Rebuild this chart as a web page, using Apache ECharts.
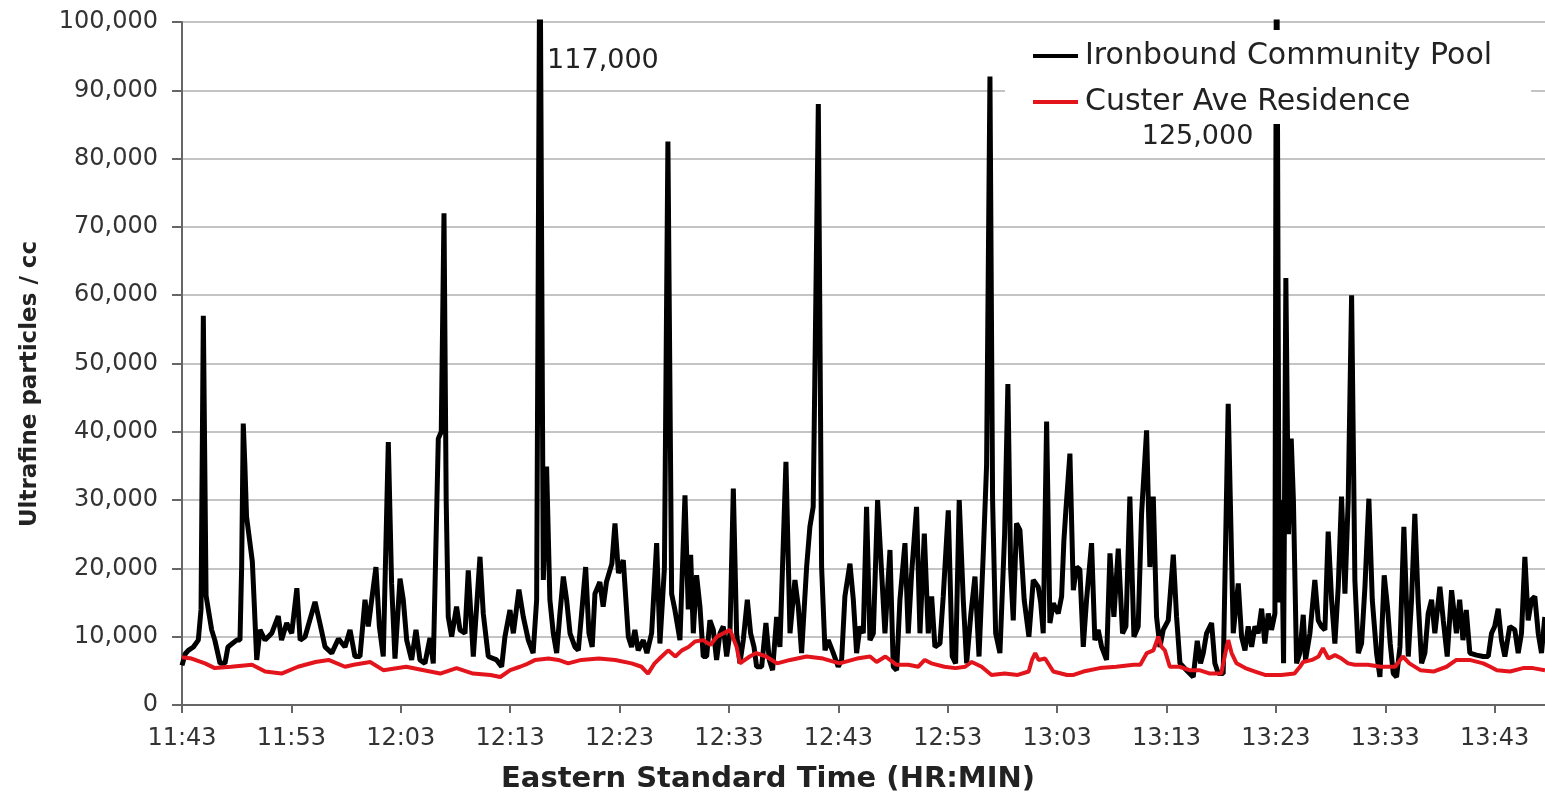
<!DOCTYPE html>
<html>
<head>
<meta charset="utf-8">
<script src="https://cdn.jsdelivr.net/npm/echarts@6/dist/echarts.min.js"></script>
<style>
html,body{margin:0;padding:0;background:#fff;}
#chart{width:1545px;height:793px;}
</style>
</head>
<body>
<div id="chart"></div>
<script>
// ---- data (minutes after 11:43, particles / cc) ----
const xTickLabels = ['11:43','11:53','12:03','12:13','12:23','12:33','12:43','12:53','13:03','13:13','13:23','13:33','13:43'];
const yTickValues = [0,10000,20000,30000,40000,50000,60000,70000,80000,90000,100000];
const seriesNames = ['Ironbound Community Pool', 'Custer Ave Residence'];
const peakLabels = ['117,000', '125,000'];

const poolMinutes = [0,0.3,0.58,1.04,1.49,1.74,1.95,2.2,2.71,3.0,3.48,3.93,4.2,4.6,5.0,5.3,5.45,5.6,5.75,5.9,6.43,6.6,6.83,7.13,7.59,8.2,8.8,9.1,9.57,10.03,10.5,10.8,11.25,12.16,12.6,13.08,13.69,14.3,
14.9,15.36,15.81,16.27,16.73,17.03,17.34,17.73,18.04,18.4,18.86,19.16,19.47,19.93,20.23,20.54,20.99,21.39,21.75,22.21,22.67,22.97,23.43,23.7,23.95,24.15,24.34,24.65,25.1,25.41,25.87,26.17,26.63,27.24,27.54,28.0,28.76,29.22,29.52,29.98,30.29,
30.8,31.2,31.66,32.1,32.42,32.72,33.03,33.33,33.63,33.94,34.25,34.55,34.86,35.16,35.47,35.92,36.23,36.53,36.9,37.2,37.5,37.75,38.2,38.5,38.8,39.3,39.58,39.9,40.34,40.8,41.1,41.4,41.7,42.17,42.5,42.93,43.39,43.69,44.1,44.42,44.76,45.06,45.52,45.98,46.28,
46.5,46.74,47.04,47.35,47.65,47.96,48.26,48.57,48.87,49.18,49.48,49.79,50.09,50.4,50.7,51.0,51.31,51.68,51.98,52.29,52.53,52.99,53.38,53.69,53.99,54.36,54.66,55.21,55.58,56.03,56.34,56.64,57.1,57.4,57.7,58.17,58.47,58.78,59.08,59.54,59.99,60.3,60.6,61.06,61.37,61.67,61.98,62.28,
62.58,62.89,63.2,63.59,63.96,64.26,64.72,65.02,65.33,65.63,66.09,66.39,66.7,67.15,67.46,67.86,68.22,68.53,68.83,69.29,69.59,70.05,70.41,70.72,71.05,71.42,71.73,72.12,72.49,72.86,73.25,73.55,73.86,74.1,74.38,74.77,75.2,75.5,75.75,75.99,76.29,76.6,76.99,77.42,77.82,78.27,78.5,78.73,
79.04,79.34,79.65,80.1,80.41,80.62,80.8,81.17,81.48,81.78,82.08,82.39,82.69,83.15,83.45,83.76,84.07,84.52,84.83,85.19,85.59,85.98,86.29,86.65,87.02,87.41,87.72,88.18,88.48,88.79,89.09,89.4,89.7,90.16,90.62,90.92,91.23,91.83,92.44,92.81,93.11,93.36,93.66,94.12,94.42,
94.73,95.18,95.64,96.1,96.56,96.86,97.17,97.47,97.78,98.08,98.38,98.69,98.99,99.3,99.6,99.91,100.06,100.3,100.5,100.7,100.91,101.15,101.4,101.6,101.89,102.19,102.5,102.71,103.11,103.56,103.87,104.17,104.48,104.78,105.09,105.39,105.7,106.0,106.31,106.61,106.92,107.22,107.53,107.83,108.14,108.5,108.81,109.2,109.51,109.9,110.2,
110.45,110.73,111.03,111.34,111.7,112.1,112.4,112.7,113.0,113.32,113.62,113.92,114.23,114.53,114.99,115.3,115.66,116.06,116.5,116.8,117.1,117.4,117.73,118.34,118.95,119.41,119.71,120.0,120.32,120.62,120.93,121.38,121.84,122.15,122.45,122.76,123.06,123.37,123.67,123.98,124.28,124.58];

const poolValues = [5800,7500,8000,8500,9500,14000,57000,16000,11000,9500,6100,6100,8500,9000,9500,9500,20000,41200,35000,27600,21000,15000,6600,11000,9500,10500,13000,9500,12000,10500,17100,9500,10000,15100,12000,8500,7600,9700,
8500,11000,7100,7100,15400,11500,15400,20200,11500,7100,38500,17800,6800,18500,15400,9500,6600,11000,6600,6100,9800,6100,39000,40000,72000,30000,12900,10000,14400,11000,10500,19700,7100,21700,13400,7100,6600,5600,10000,13900,10500,
16900,12900,9500,7600,15400,117000,18300,34900,15400,10500,7600,13400,18800,15400,10500,8500,8000,13400,20200,10500,8500,16300,18000,14400,18000,20700,26600,19300,21200,10000,8500,11000,8000,9500,7600,10500,23700,9000,20000,82500,16300,13900,9500,30700,14000,
22000,10500,19000,14400,7100,7100,12400,11000,6600,10500,11500,7100,10500,31700,10500,6100,9500,15400,10500,8500,5600,5600,12000,6600,5100,12900,8500,35600,10500,18300,14400,7600,20200,26100,29000,88000,20200,8000,9500,7600,5600,6600,15900,20700,15400,7600,11500,10500,
29000,9500,10500,30000,19300,10500,22700,5600,5100,15400,23700,10500,19300,29000,10500,25100,10500,15900,8500,9000,15900,28500,7100,6100,30000,15400,6100,13400,18800,7100,22200,35000,92000,30000,10500,7600,25000,47000,20000,12400,26600,25600,15400,10000,18300,17300,15000,10500,
41500,12000,14900,13400,15900,24100,28500,36800,16800,20200,19800,8500,15400,23700,9500,11000,8500,6600,22200,12900,22900,10500,11500,30500,10000,11500,28000,40200,20200,30500,12900,8500,11000,12400,22000,12900,6100,5100,4100,9400,6100,7600,10500,12000,6100,
4600,4600,44100,10500,17800,10000,8000,11500,8500,11500,10500,14100,9000,13400,11000,13400,125000,15000,30000,6100,62500,25000,39000,30000,6100,7600,13200,6600,10500,18300,12400,11500,11000,25400,15400,9000,17300,30500,16300,30000,60000,18300,7600,9000,17300,30200,15400,7600,4100,19000,14400,
9000,4600,4100,8500,26100,7100,15400,28000,15400,6100,7600,13400,15400,10500,17300,12400,7100,16800,10500,15400,9500,13900,7600,7300,7100,7100,10500,11500,14100,9500,7100,11500,11000,7600,10500,21700,12400,15400,15900,10500,7600,12900];

const custerMinutes = [0,0.88,2.1,3.0,4.5,6.4,7.6,9.1,10.6,12.2,13.4,14.9,15.7,17.2,18.4,20.5,22.1,23.6,25.1,26.6,28.2,29.1,30.0,30.9,31.4,32.3,33.5,34.4,35.3,36.5,38.1,39.6,41.1,42.0,42.6,43.2,43.85,44.45,45.1,45.7,46.3,46.9,
47.65,48.3,48.9,49.5,50.1,50.7,51.0,51.9,52.5,53.4,54.4,55.6,57.1,58.6,60.1,61.7,62.9,63.5,64.3,65.3,66.4,67.3,67.9,68.5,69.7,70.7,71.6,72.2,73.1,74.0,75.2,76.4,77.4,77.7,78.0,78.3,78.9,
79.65,80.9,81.5,82.4,83.9,85.4,87.0,87.6,88.2,88.8,89.25,89.55,89.85,90.3,91.2,92.1,93.0,93.97,95.0,95.5,95.64,95.95,96.4,97.2,98.1,99.0,100.5,101.7,102.2,102.5,103.3,103.9,104.3,104.8,105.4,106.0,106.6,107.2,108.4,109.6,110.9,
111.6,112.2,113.2,114.4,115.6,116.5,117.7,118.95,119.6,120.2,121.4,122.6,123.5,124.6];

const custerValues = [7000,6800,6100,5400,5600,5900,4900,4600,5600,6300,6600,5600,5900,6300,5100,5600,5100,4600,5400,4600,4400,4100,5100,5600,5900,6600,6800,6600,6100,6600,6800,6600,6100,5600,4600,6100,7100,8000,7100,8000,8500,9300,
9500,8800,10000,10500,11000,8500,6100,7100,7600,7100,6100,6600,7100,6800,6100,6800,7100,6300,7100,5900,5900,5600,6600,6100,5600,5400,5600,6300,5600,4400,4600,4400,4900,6600,7600,6600,6800,
4900,4400,4400,4900,5400,5600,5900,5900,7600,8000,10000,8500,8000,5600,5600,5100,5100,4600,4600,8500,9500,7600,6100,5400,4900,4400,4400,4600,5600,6300,6600,7100,8300,6800,7300,6800,6100,5900,5900,5600,5600,
7100,6100,5100,4900,5600,6600,6600,6100,5600,5100,4900,5400,5400,5100];

// ---- build ----
const poolData = poolMinutes.map((m, i) => [m, poolValues[i]]);
const custerData = custerMinutes.map((m, i) => [m, custerValues[i]]);
const yMax = yTickValues[yTickValues.length - 1];
// off-scale peaks (clipped at the top) get their value written next to them
const offScale = poolData.filter(d => d[1] > yMax);
const labelOffsets = [[63, 39], [-79, 115]];
const markData = offScale.map((d, i) => ({
  coord: [d[0], yMax],
  label: { formatter: peakLabels[i], offset: labelOffsets[i] }
}));

const FONT = 'DejaVu Sans';
const chart = echarts.init(document.getElementById('chart'), null, { renderer: 'canvas' });
chart.setOption({
  animation: false,
  backgroundColor: '#ffffff',
  grid: { left: 182, right: 0, top: 22, bottom: 88, containLabel: false },
  legend: {
    orient: 'vertical',
    left: 1005,
    top: 30,
    padding: [10, 39, 6, 28],
    backgroundColor: '#ffffff',
    itemWidth: 45,
    itemHeight: 4,
    itemGap: 14,
    icon: 'rect',
    z: 10,
    data: seriesNames,
    textStyle: { fontFamily: FONT, fontSize: 30, color: '#222', lineHeight: 32, padding: [0, 0, 0, 2] }
  },
  xAxis: {
    type: 'value',
    min: 0,
    max: 124.6,
    interval: 10,
    axisLine: { show: true, lineStyle: { color: '#666', width: 2 } },
    axisTick: { show: true, length: 8, lineStyle: { color: '#666', width: 2 } },
    splitLine: { show: false },
    axisLabel: {
      margin: 22,
      fontFamily: FONT, fontSize: 24, color: '#333',
      showMaxLabel: false,
      formatter: v => (Math.abs(v % 10) < 1e-6 ? (xTickLabels[Math.round(v / 10)] || '') : '')
    }
  },
  yAxis: {
    type: 'value',
    min: 0,
    max: yMax,
    interval: 10000,
    axisLine: { show: true, lineStyle: { color: '#666', width: 2 } },
    axisTick: { show: true, length: 10, lineStyle: { color: '#666', width: 2 } },
    splitLine: { show: true, lineStyle: { color: '#c4c4c4', width: 2 } },
    axisLabel: {
      margin: 24,
      fontFamily: FONT, fontSize: 24, color: '#333',
      formatter: v => v.toLocaleString('en-US')
    }
  },
  graphic: [
    {
      type: 'text', x: 768, y: 779, z: 20,
      style: { text: 'Eastern Standard Time (HR:MIN)', fontFamily: FONT, fontWeight: 'bold', fontSize: 29, fill: '#222', align: 'center', verticalAlign: 'middle' }
    },
    {
      type: 'text', x: 30, y: 384, rotation: Math.PI / 2, z: 20,
      style: { text: 'Ultrafine particles / cc', fontFamily: FONT, fontWeight: 'bold', fontSize: 23, fill: '#222', align: 'center', verticalAlign: 'middle' }
    }
  ],
  series: [
    {
      name: seriesNames[0],
      type: 'line',
      data: poolData,
      symbol: 'none',
      clip: true,
      lineStyle: { color: '#000000', width: 5, join: 'bevel' },
      itemStyle: { color: '#000000' },
      markPoint: {
        symbol: 'rect',
        symbolSize: 0,
        silent: true,
        label: { show: true, position: 'inside', fontFamily: FONT, fontSize: 27, color: '#222' },
        data: markData
      },
      z: 2
    },
    {
      name: seriesNames[1],
      type: 'line',
      data: custerData,
      symbol: 'none',
      clip: true,
      lineStyle: { color: '#e3141b', width: 4 },
      itemStyle: { color: '#e3141b' },
      z: 3
    }
  ]
});
</script>
</body>
</html>
